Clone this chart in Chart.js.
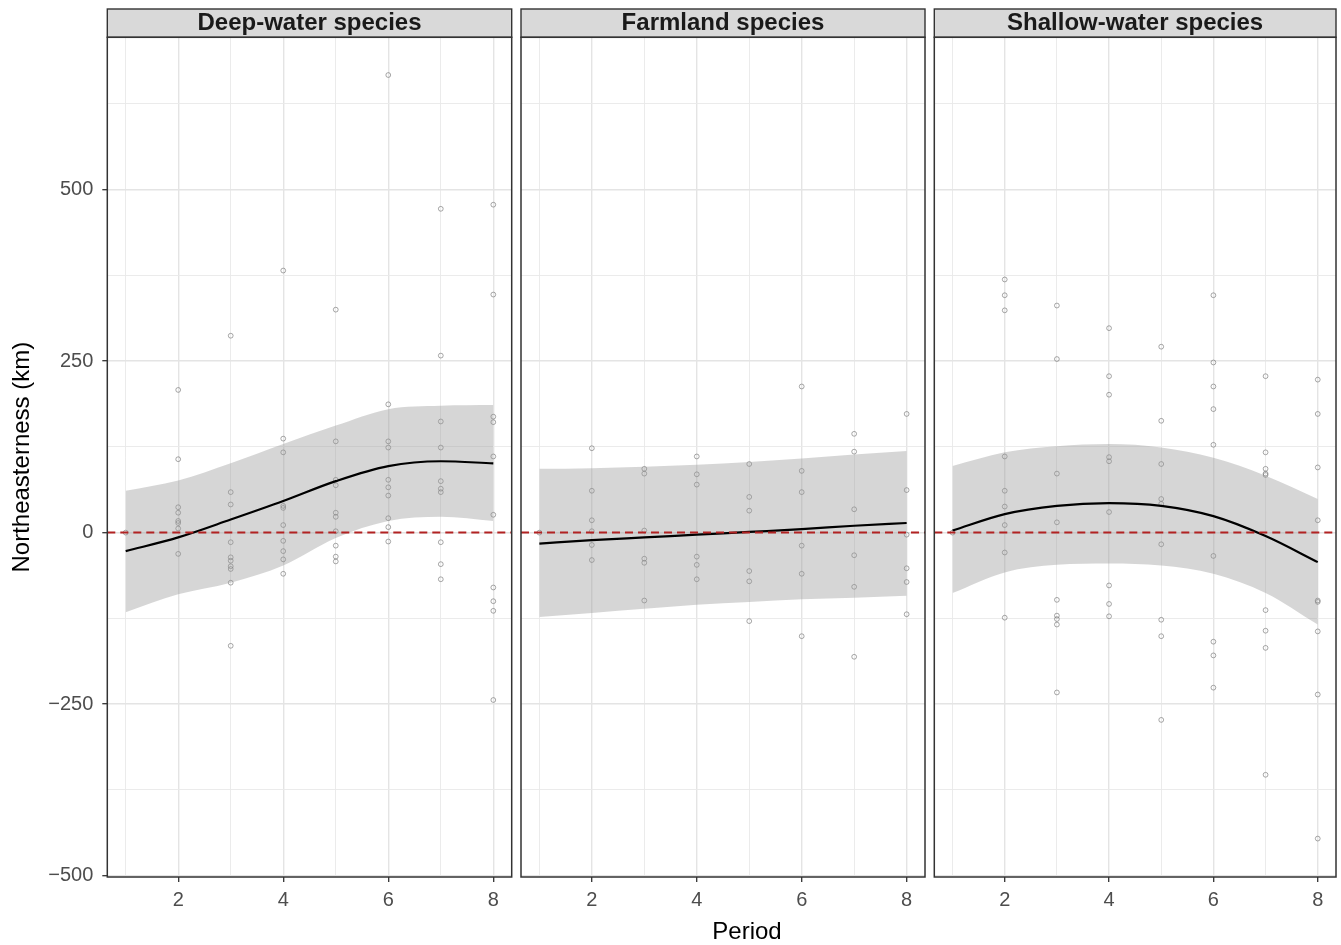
<!DOCTYPE html>
<html>
<head>
<meta charset="utf-8">
<script src="https://cdn.jsdelivr.net/npm/chart.js@4.4.1/dist/chart.umd.min.js"></script>
<style>
    html, body { margin: 0; padding: 0; background: #ffffff; }
    #figura { position: relative; width: 1341px; height: 945px; overflow: hidden; }
    #figura canvas { position: absolute; left: 0; top: 0; }
    #tituloX {
        position: absolute; top: 919px; left: 647px; width: 200px;
        text-align: center; color: #000000;
        font: 24px "Liberation Sans", Arial, sans-serif; line-height: 24px;
    }
</style>
</head>
<body>
<div id="figura">
    <canvas id="painel0" width="1341" height="945"></canvas>
    <canvas id="painel1" width="1341" height="945"></canvas>
    <canvas id="painel2" width="1341" height="945"></canvas>
    <div id="tituloX">Period</div>
</div>
<script>
/* Dados (km, por período) */
const periodos = [1, 2, 3, 4, 5, 6, 7, 8];
const titulosPaineis = ["Deep-water species", "Farmland species", "Shallow-water species"];

// Marcas dos eixos
const ticksYPrincipais = [-500, -250, 0, 250, 500];
const ticksYMenores = [-375, -125, 125, 375, 625];
const ticksXPrincipais = [2, 4, 6, 8];
const ticksXMenores = [1, 3, 5, 7];
const linhaReferencia = 0;

// Espécies de águas profundas: pontos por período
const pontosProfundas = [
    [0],
    [208, 107, 37, 29, 17, 14, 6, -31],
    [287, 59, 41, -14, -36, -41, -49, -53, -73, -165],
    [382, 137, 117, 39, 36, 11, -12, -27, -39, -60],
    [325, 133, 77, 69, 29, 23, 2, -19, -35, -42],
    [667, 187, 133, 124, 77, 66, 54, 21, 8, -13],
    [472, 258, 162, 124, 75, 64, 59, -14, -46, -68],
    [478, 347, 169, 161, 111, 26, -80, -100, -114, -244],
];
const ajusteProfundas = [-27, -7, 19, 46, 75, 97, 104, 101];
const inferiorProfundas = [-116, -90, -73, -48, -8, 17, 23, 17];
const superiorProfundas = [61, 76, 101, 129, 156, 180, 185, 186];

// Espécies de campo agrícola
const pontosCampo = [
    [0],
    [123, 61, 18, 2, -18, -40],
    [93, 86, 3, -38, -44, -99],
    [111, 85, 70, -35, -47, -68],
    [100, 52, 32, -56, -71, -129],
    [213, 90, 59, -19, -60, -151],
    [144, 118, 34, -33, -79, -181],
    [173, 62, -3, -52, -72, -119],
];
const ajusteCampo = [-16, -11, -7, -3, 1, 5, 10, 14];
const inferiorCampo = [-123, -117, -111, -105, -101, -97, -95, -92];
const superiorCampo = [93, 94, 96, 99, 103, 108, 114, 119];

// Espécies de águas rasas
const pontosRasas = [
    [0],
    [369, 346, 324, 111, 61, 38, 11, -29, -124],
    [331, 253, 86, 15, -98, -121, -126, -134, -233],
    [298, 228, 201, 110, 104, 30, -77, -104, -122],
    [271, 163, 100, 49, 42, -17, -127, -151, -273],
    [346, 248, 213, 180, 128, -34, -159, -179, -226],
    [228, 117, 93, 86, 84, -113, -143, -168, -353],
    [223, 173, 95, 18, -99, -101, -144, -236, -446],
];
const ajusteRasas = [3, 27, 39, 43, 39, 24, -5, -43];
const inferiorRasas = [-88, -58, -47, -45, -48, -60, -88, -134];
const superiorRasas = [97, 117, 126, 129, 124, 109, 83, 49];

/* Geometria da figura (pixels) */
const fonte = '"Liberation Sans", Arial, sans-serif';
const limitesPaineis = [[107.3, 511.7], [521, 925], [934.3, 1338.7]];
const larguraTotal = 1341;

// Desenha a faixa cinza do título, a linha tracejada e a borda do painel
const pluginFaceta = {
    id: "faceta",
    beforeDraw(chart) {
        const ctx = chart.ctx;
        const area = chart.chartArea;
        const topo = chart.titleBlock.top;
        ctx.save();
        ctx.fillStyle = "#d9d9d9";
        ctx.fillRect(area.left, topo, area.right - area.left, area.top - topo);
        ctx.strokeStyle = "#333333";
        ctx.lineWidth = 1.4;
        ctx.strokeRect(area.left, topo, area.right - area.left, area.top - topo);
        ctx.restore();
    },
    afterDatasetsDraw(chart) {
        const ctx = chart.ctx;
        const area = chart.chartArea;
        const y = chart.scales.y.getPixelForValue(linhaReferencia);
        ctx.save();
        // Linha de referência vermelha tracejada
        ctx.strokeStyle = "#b22222";
        ctx.lineWidth = 2;
        ctx.setLineDash([8, 5]);
        ctx.beginPath();
        ctx.moveTo(area.left, y);
        ctx.lineTo(area.right, y);
        ctx.stroke();
        // Borda do painel
        ctx.setLineDash([]);
        ctx.strokeStyle = "#333333";
        ctx.lineWidth = 1.5;
        ctx.strokeRect(area.left, area.top, area.right - area.left, area.bottom - area.top);
        ctx.restore();
    },
};

// Formata números negativos com sinal de menos tipográfico
function formatarTick(v) {
    return v < 0 ? "\u2212" + Math.abs(v) : String(v);
}

// Transforma valores por período em pares {x, y}
function paraPontos(listaPorPeriodo) {
    const saida = [];
    listaPorPeriodo.forEach((valores, i) => {
        valores.forEach((v) => saida.push({ x: periodos[i], y: v }));
    });
    return saida;
}
function paraCurva(valores) {
    return valores.map((v, i) => ({ x: periodos[i], y: v }));
}

/* Cria um painel da faceta */
function criarPainel(indice, pontos, ajuste, inferior, superior) {
    const ctx = document.getElementById("painel" + indice).getContext("2d");
    const [esq, dir] = limitesPaineis[indice];
    const primeiro = indice === 0;

    new Chart(ctx, {
        type: "scatter",
        data: {
            datasets: [
                {
                    // Observações (círculos vazados)
                    data: paraPontos(pontos),
                    pointRadius: 2.4,
                    pointBorderWidth: 1,
                    pointBorderColor: "rgba(110,110,110,0.6)",
                    pointBackgroundColor: "rgba(0,0,0,0)",
                    order: 4,
                },
                {
                    // Limite superior do intervalo de confiança
                    type: "line",
                    data: paraCurva(superior),
                    borderWidth: 0,
                    pointRadius: 0,
                    backgroundColor: "rgba(153,153,153,0.4)",
                    fill: "+1",
                    cubicInterpolationMode: "monotone",
                    order: 3,
                },
                {
                    // Limite inferior
                    type: "line",
                    data: paraCurva(inferior),
                    borderWidth: 0,
                    pointRadius: 0,
                    fill: false,
                    cubicInterpolationMode: "monotone",
                    order: 2,
                },
                {
                    // Curva ajustada
                    type: "line",
                    data: paraCurva(ajuste),
                    borderColor: "#000000",
                    borderWidth: 2.2,
                    pointRadius: 0,
                    fill: false,
                    cubicInterpolationMode: "monotone",
                    order: 1,
                },
            ],
        },
        options: {
            responsive: false,
            devicePixelRatio: 1,
            animation: false,
            events: [],
            layout: {
                padding: { left: primeiro ? 0 : esq, right: larguraTotal - dir, top: 9, bottom: 0 },
            },
            plugins: {
                legend: { display: false },
                tooltip: { enabled: false },
                title: {
                    display: true,
                    text: titulosPaineis[indice],
                    fullSize: false,
                    color: "#1a1a1a",
                    font: { family: fonte, size: 24, weight: "bold", lineHeight: 1 },
                    padding: { top: 2, bottom: 2.3 },
                },
            },
            scales: {
                x: {
                    type: "linear",
                    min: 0.65,
                    max: 8.35,
                    afterBuildTicks: (s) => { s.ticks = ticksXPrincipais.map((v) => ({ value: v })); },
                    afterFit: (s) => { s.height = 68; },
                    grid: { color: "#e4e4e4", lineWidth: 1.4, tickLength: 5, tickColor: "#333333", tickWidth: 1.3 },
                    border: { display: false },
                    ticks: { color: "#4d4d4d", padding: 6.5, maxRotation: 0, font: { family: fonte, size: 20 } },
                },
                xMenor: {
                    type: "linear",
                    axis: "x",
                    position: "bottom",
                    min: 0.65,
                    max: 8.35,
                    afterBuildTicks: (s) => { s.ticks = ticksXMenores.map((v) => ({ value: v })); },
                    afterFit: (s) => { s.height = 0; },
                    grid: { color: "#e9e9e9", lineWidth: 0.9, drawTicks: false },
                    border: { display: false },
                    ticks: { display: false },
                },
                y: {
                    type: "linear",
                    min: -502,
                    max: 722,
                    afterBuildTicks: (s) => { s.ticks = ticksYPrincipais.map((v) => ({ value: v })); },
                    afterFit: (s) => { s.width = primeiro ? esq : 0; },
                    grid: {
                        color: "#e4e4e4",
                        lineWidth: 1.4,
                        drawTicks: primeiro,
                        tickLength: 5,
                        tickColor: "#333333",
                        tickWidth: 1.3,
                    },
                    border: { display: false },
                    ticks: {
                        display: primeiro,
                        color: "#4d4d4d",
                        padding: 9,
                        font: { family: fonte, size: 20 },
                        callback: (v) => formatarTick(v),
                    },
                    title: {
                        display: primeiro,
                        text: "Northeasterness (km)",
                        color: "#000000",
                        font: { family: fonte, size: 24 },
                        padding: { top: 7.6, bottom: 0 },
                    },
                },
                yMenor: {
                    type: "linear",
                    axis: "y",
                    position: "left",
                    min: -502,
                    max: 722,
                    afterBuildTicks: (s) => { s.ticks = ticksYMenores.map((v) => ({ value: v })); },
                    afterFit: (s) => { s.width = 0; },
                    grid: { color: "#e9e9e9", lineWidth: 0.9, drawTicks: false },
                    border: { display: false },
                    ticks: { display: false },
                },
            },
        },
        plugins: [pluginFaceta],
    });
}

criarPainel(0, pontosProfundas, ajusteProfundas, inferiorProfundas, superiorProfundas);
criarPainel(1, pontosCampo, ajusteCampo, inferiorCampo, superiorCampo);
criarPainel(2, pontosRasas, ajusteRasas, inferiorRasas, superiorRasas);
</script>
</body>
</html>
